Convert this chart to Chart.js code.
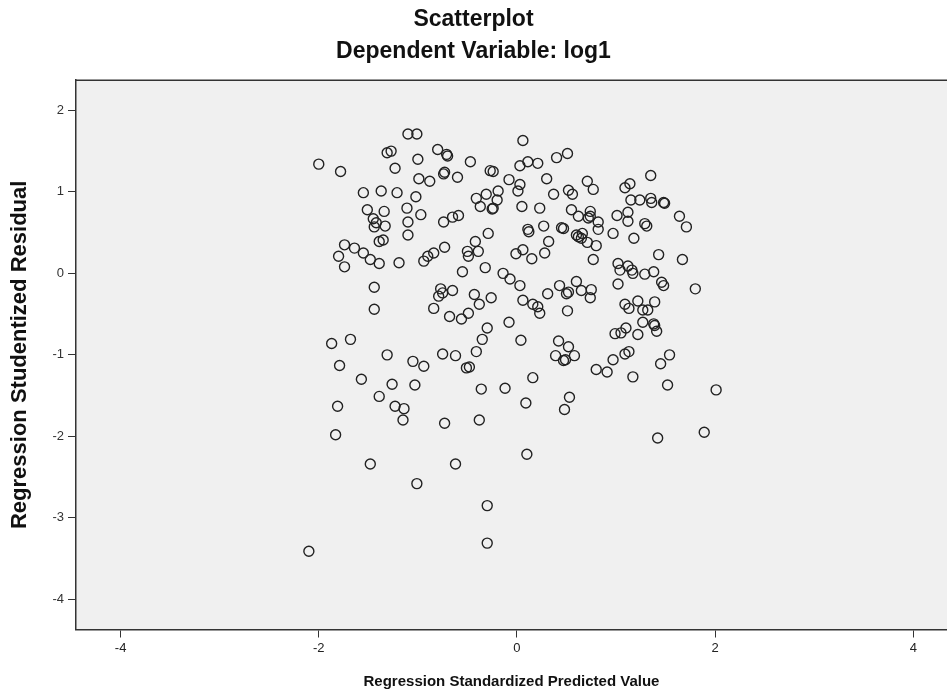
<!DOCTYPE html>
<html lang="en">
<head>
  <meta charset="UTF-8">
  <title>Scatterplot</title>
  <script src="https://cdn.jsdelivr.net/npm/chart.js"></script>
  <style>
    body {
      margin: 0;
      background: #fff;
      overflow: hidden;
    }

    #caixa {
      width: 947px;
      height: 692px;
    }
  </style>
</head>
<body>
  <div id="caixa"><canvas id="grafico"></canvas></div>

  <script>
    // Regression Standardized Predicted Value (x) and Regression Studentized Residual (y)
    const predicted = [
      -1.10, -1.01, -0.80, -0.71, -0.70, -1.31, -1.27, -2.00, -1.78, -1.23,
      -1.00, -0.47, -0.74, -0.73, -0.99, -0.88, -0.60, -0.27, -0.24, -1.55,
      -1.37, -1.21, -1.02, -0.41, -0.31, -0.19, -0.20, -0.37, -0.25, -0.24,
      -1.51, -1.34, -1.11, -0.97, -1.45, -1.42, -1.44, -1.33, -1.10, -0.74,
      -0.65, -0.59, -1.10, -1.39, -1.35, -0.29, -1.74, -1.64, -1.55, -1.80,
      -1.48, -1.39, -1.74, -1.19, -0.94, -0.90, -0.84, -0.73, -0.42, -0.50,
      -0.49, -0.39, -0.55, -0.32,
      0.06, 0.40, 0.51, 0.03, 0.11, 0.21, -0.08, 0.03, 0.01, 0.30,
      0.37, 0.52, 0.56, 0.71, 0.77, 1.09, 1.14, 1.35, 1.15, 1.24,
      1.35, 1.36, 1.48, 1.49, 0.05, 0.23, 0.55, 0.62, 0.74, 0.72,
      0.74, 0.82, 0.82, 1.01, 1.12, 1.12, 1.29, 1.31, 1.64, 1.71,
      0.11, 0.12, 0.27, 0.45, 0.47, 0.60, 0.62, 0.66, 0.65, 0.97,
      1.18, 0.32, 0.71, 0.80, -0.01, 0.06, 0.15, 0.28, 0.77, 1.43,
      1.67, 1.02, 1.04, 1.12, 1.16, 1.17, 1.29, 1.38, -0.14, -0.07,
      -1.44, -1.44, -0.77, -0.75, -0.79, -0.65, -0.43, -0.38, -0.26, -0.84,
      -0.68, -0.56, -0.49, -0.30, -1.87, -1.68, -1.79, -1.31, -1.05, -0.94,
      -0.75, -0.62, -0.35, -0.41, -0.51, -0.48, -1.57, -1.26, -1.03, -1.39,
      -0.36, -1.81, -1.23, -1.14, -1.15, -0.73, -0.38, -1.83, -1.48, -0.62,
      0.03, 0.43, 0.60, 0.52, 0.50, 0.65, 0.75, 0.74, 0.31, 1.46,
      1.48, 1.02, 1.80, 0.06, 0.16, 0.21, 0.23, 0.51, 1.09, 1.13,
      1.22, 1.27, 1.32, 1.39, -0.08, 1.27, 1.38, 1.39, 1.41, 0.99,
      1.05, 1.10, 1.22, 0.04, 0.42, 0.52, 0.39, 0.47, 0.49, 0.58,
      0.97, 1.09, 1.13, 1.54, 1.45, 0.80, 0.91, 1.17, 0.16, -0.12,
      1.52, 2.01, 0.09, 0.53, 0.48, 1.42, 1.89, 0.10,
      -1.01, -0.30, -0.30, -2.10
    ];

    const residual = [
      1.71, 1.71, 1.52, 1.46, 1.44, 1.48, 1.50, 1.34, 1.25, 1.29,
      1.40, 1.37, 1.22, 1.24, 1.16, 1.13, 1.18, 1.26, 1.25, 0.99,
      1.01, 0.99, 0.94, 0.92, 0.97, 1.01, 0.90, 0.82, 0.79, 0.80,
      0.78, 0.76, 0.80, 0.72, 0.67, 0.62, 0.57, 0.58, 0.63, 0.63,
      0.69, 0.71, 0.47, 0.39, 0.41, 0.49, 0.35, 0.31, 0.25, 0.21,
      0.17, 0.12, 0.08, 0.13, 0.15, 0.21, 0.25, 0.32, 0.39, 0.27,
      0.21, 0.27, 0.02, 0.07,
      1.63, 1.42, 1.47, 1.32, 1.37, 1.35, 1.15, 1.09, 1.01, 1.16,
      0.97, 1.02, 0.97, 1.13, 1.03, 1.05, 1.10, 1.20, 0.90, 0.90,
      0.92, 0.87, 0.87, 0.86, 0.82, 0.80, 0.78, 0.70, 0.76, 0.68,
      0.70, 0.63, 0.54, 0.71, 0.75, 0.64, 0.61, 0.58, 0.70, 0.57,
      0.54, 0.51, 0.58, 0.56, 0.55, 0.47, 0.45, 0.49, 0.43, 0.49,
      0.43, 0.39, 0.38, 0.34, 0.24, 0.29, 0.18, 0.25, 0.17, 0.23,
      0.17, 0.12, 0.04, 0.09, 0.04, 0.00, -0.01, 0.02, 0.00, -0.07,
      -0.17, -0.44, -0.19, -0.24, -0.28, -0.21, -0.26, -0.38, -0.30, -0.43,
      -0.53, -0.56, -0.49, -0.67, -0.86, -0.81, -1.13, -1.00, -1.08, -1.14,
      -0.99, -1.01, -0.81, -0.96, -1.16, -1.15, -1.30, -1.36, -1.37, -1.51,
      -1.42, -1.63, -1.63, -1.66, -1.80, -1.84, -1.80, -1.98, -2.34, -2.34,
      -0.15, -0.15, -0.10, -0.23, -0.25, -0.21, -0.20, -0.30, -0.25, -0.11,
      -0.15, -0.13, -0.19, -0.33, -0.38, -0.41, -0.49, -0.46, -0.38, -0.43,
      -0.34, -0.45, -0.45, -0.35, -0.60, -0.60, -0.62, -0.64, -0.71, -0.74,
      -0.73, -0.67, -0.75, -0.82, -0.83, -0.90, -1.01, -1.07, -1.06, -1.01,
      -1.06, -0.99, -0.96, -1.00, -1.11, -1.18, -1.21, -1.27, -1.28, -1.41,
      -1.37, -1.43, -1.59, -1.52, -1.67, -2.02, -1.95, -2.22,
      -2.58, -2.85, -3.31, -3.41
    ];

    const xTicks = [-4, -2, 0, 2, 4];
    const yTicks = [-4, -3, -2, -1, 0, 1, 2];

    const pontos = predicted.map((x, i) => ({ x: x, y: residual[i] }));

    const fonte = 'Arial, "Liberation Sans", sans-serif';

    // fundo cinza da área do gráfico + borda de cima
    const fundoPlot = {
      id: 'fundoPlot',
      beforeDraw(chart) {
        const { ctx, chartArea: a } = chart;
        ctx.save();
        ctx.fillStyle = '#ffffff';
        ctx.fillRect(0, 0, chart.width, chart.height);
        ctx.fillStyle = '#f0f0f0';
        ctx.fillRect(a.left, a.top, a.right - a.left, a.bottom - a.top);
        ctx.restore();
      },
      afterDraw(chart) {
        const { ctx, chartArea: a } = chart;
        ctx.save();
        ctx.strokeStyle = '#333';
        ctx.lineWidth = 1.5;
        ctx.beginPath();
        ctx.moveTo(a.left, a.top);
        ctx.lineTo(a.right, a.top);
        ctx.stroke();
        ctx.restore();
      }
    };

    const ctx = document.getElementById('grafico').getContext('2d');

    new Chart(ctx, {
      type: 'scatter',
      data: {
        datasets: [{
          label: 'Residual',
          data: pontos,
          pointRadius: 5,
          pointHoverRadius: 5,
          borderWidth: 1.4,
          borderColor: '#222',
          backgroundColor: 'rgba(0,0,0,0)'
        }]
      },
      options: {
        responsive: true,
        maintainAspectRatio: false,
        animation: false,
        layout: { padding: 0, autoPadding: false },
        plugins: {
          legend: { display: false },
          tooltip: { enabled: false },
          title: {
            display: true,
            text: 'Scatterplot',
            color: '#111',
            font: { family: fonte, size: 23, weight: 'bold' },
            padding: { top: 6, bottom: 0 }
          },
          subtitle: {
            display: true,
            text: 'Dependent Variable: log1',
            color: '#111',
            font: { family: fonte, size: 23, weight: 'bold' },
            padding: { top: 4, bottom: 15 }
          }
        },
        scales: {
          x: {
            type: 'linear',
            min: -4.45,
            max: 4.34,
            afterBuildTicks: (s) => { s.ticks = xTicks.map(v => ({ value: v })); },
            afterFit: (s) => {
              s.height = 62.5;
              s.paddingLeft = 0;
              s.paddingRight = 0;
            },
            grid: { drawOnChartArea: false, drawTicks: true, tickLength: 8, color: '#333' },
            border: { display: true, color: '#333', width: 1.5 },
            ticks: {
              color: '#222',
              padding: 3,
              maxRotation: 0,
              font: { family: fonte, size: 13 }
            },
            title: {
              display: true,
              text: 'Regression Standardized Predicted Value',
              color: '#111',
              font: { family: fonte, size: 15, weight: 'bold' },
              padding: { top: 0, bottom: 1 }
            }
          },
          y: {
            type: 'linear',
            min: -4.37,
            max: 2.37,
            afterBuildTicks: (s) => { s.ticks = yTicks.map(v => ({ value: v })); },
            afterFit: (s) => { s.width = 76; },
            grid: { drawOnChartArea: false, drawTicks: true, tickLength: 8, color: '#333' },
            border: { display: true, color: '#333', width: 1.5 },
            ticks: {
              color: '#333',
              padding: 4,
              font: { family: fonte, size: 13 }
            },
            title: {
              display: true,
              text: 'Regression Studentized Residual',
              color: '#111',
              font: { family: fonte, size: 22, weight: 'bold' },
              padding: { top: 7, bottom: 0 }
            }
          }
        }
      },
      plugins: [fundoPlot]
    });
  </script>
</body>
</html>
